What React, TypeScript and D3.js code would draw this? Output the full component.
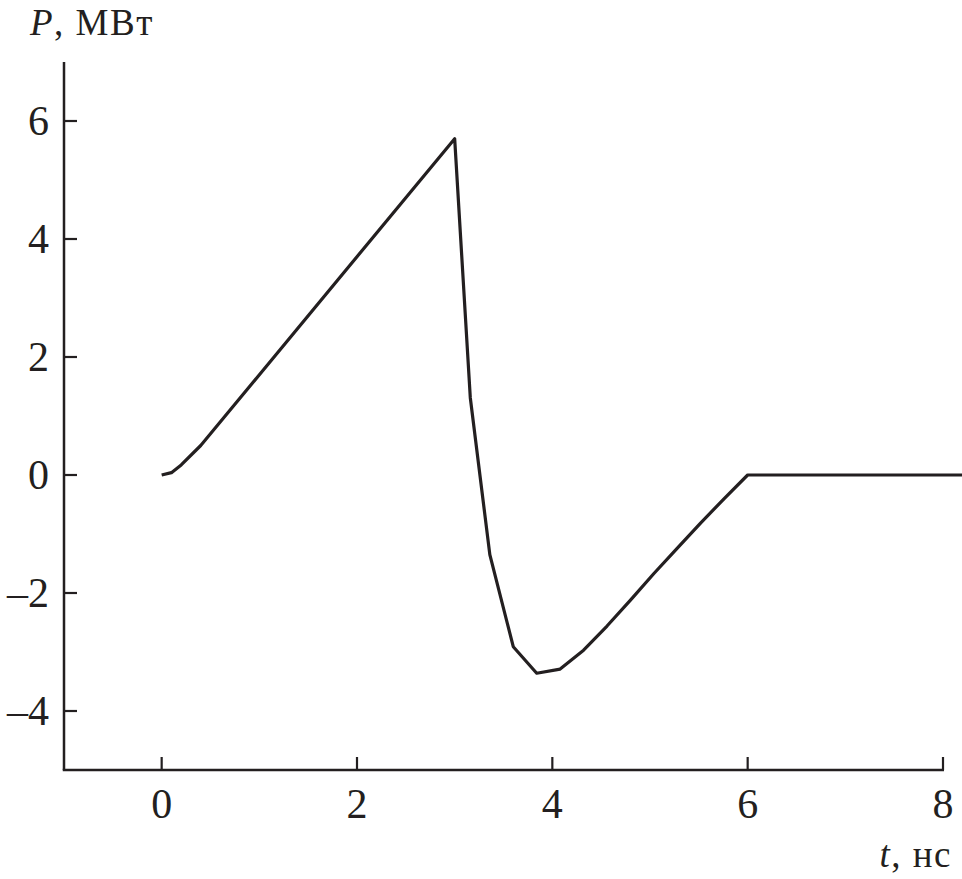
import React, { useEffect, useRef } from "react";
import * as d3 from "d3";

const tValues = [0, 0.1, 0.2, 0.4, 3.0, 3.16, 3.36, 3.6, 3.84, 4.08, 4.32, 4.56, 4.8, 5.04, 5.28, 5.52, 5.76, 6.0, 8.2];
const pValues = [0, 0.04, 0.17, 0.5, 5.7, 1.31, -1.35, -2.91, -3.36, -3.29, -2.97, -2.56, -2.12, -1.67, -1.24, -0.81, -0.4, 0, 0];
const xTicks = [0, 2, 4, 6, 8];
const yTicks = [-4, -2, 0, 2, 4, 6];

const W = 962;
const H = 879;
const INK = "#231f20";
const FONT = "Liberation Serif, serif";

export default function App() {
  const ref = useRef<SVGSVGElement>(null);
  useEffect(() => {
    const svg = d3.select(ref.current);
    svg.selectAll("*").remove();
    const x = d3.scaleLinear().domain([-1, 8]).range([64, 943]);
    const y = d3.scaleLinear().domain([-5, 7]).range([770, 62]);

    svg.append("line").attr("x1", x(-1)).attr("x2", x(-1)).attr("y1", y(7)).attr("y2", y(-5))
      .attr("stroke", INK).attr("stroke-width", 2.5);
    svg.append("line").attr("x1", x(-1) - 1.25).attr("x2", x(8) + 1).attr("y1", y(-5)).attr("y2", y(-5))
      .attr("stroke", INK).attr("stroke-width", 2.5);

    xTicks.forEach((t) => {
      svg.append("line").attr("x1", x(t)).attr("x2", x(t)).attr("y1", y(-5)).attr("y2", y(-5) - 13)
        .attr("stroke", INK).attr("stroke-width", 2.2);
      svg.append("text").attr("x", x(t)).attr("y", 818).attr("text-anchor", "middle")
        .attr("font-family", FONT).attr("font-size", 42).attr("fill", INK).text(String(t));
    });
    yTicks.forEach((v) => {
      svg.append("line").attr("x1", x(-1)).attr("x2", x(-1) + 13).attr("y1", y(v)).attr("y2", y(v))
        .attr("stroke", INK).attr("stroke-width", 2.2);
      svg.append("text").attr("x", 49).attr("y", y(v) + 14).attr("text-anchor", "end")
        .attr("font-family", FONT).attr("font-size", 42).attr("fill", INK)
        .text(v < 0 ? "\u2013" + Math.abs(v) : String(v));
    });

    const yt = svg.append("text").attr("x", 30).attr("y", 35).attr("font-family", FONT)
      .attr("font-size", 37).attr("letter-spacing", 1.5).attr("fill", INK);
    yt.append("tspan").attr("font-style", "italic").text("P");
    yt.append("tspan").text(", МВт");

    const xt = svg.append("text").attr("x", 952).attr("y", 867).attr("text-anchor", "end")
      .attr("font-family", FONT).attr("font-size", 37).attr("letter-spacing", 1.5).attr("fill", INK);
    xt.append("tspan").attr("font-style", "italic").text("t");
    xt.append("tspan").text(", нс");

    const data = tValues.map((t, i) => [t, pValues[i]] as [number, number]);
    const line = d3.line<[number, number]>().x((d) => x(d[0])).y((d) => y(d[1])).curve(d3.curveLinear);
    svg.append("path").attr("d", line(data) as string).attr("fill", "none")
      .attr("stroke", INK).attr("stroke-width", 3.2).attr("stroke-linejoin", "round");
  }, []);
  return (
    <svg ref={ref} width={W} height={H}
      style={{ position: "absolute", left: 0, top: 0, background: "#fff" }} />
  );
}
